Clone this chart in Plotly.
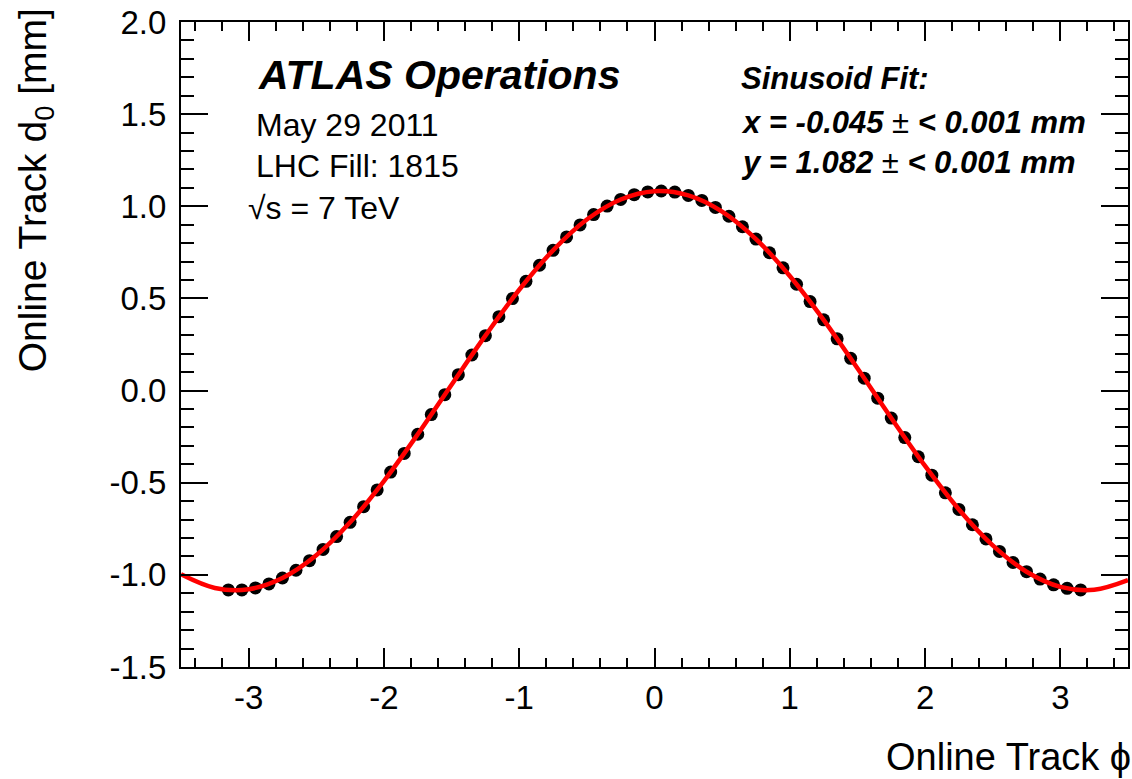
import plotly.graph_objects as go

# ---------------- data ----------------
phi_points = [-3.15, -3.05, -2.95, -2.85, -2.75, -2.65, -2.55, -2.45, -2.35, -2.25,
              -2.15, -2.05, -1.95, -1.85, -1.75, -1.65, -1.55, -1.45, -1.35, -1.25,
              -1.15, -1.05, -0.95, -0.85, -0.75, -0.65, -0.55, -0.45, -0.35, -0.25,
              -0.15, -0.05, 0.05, 0.15, 0.25, 0.35, 0.45, 0.55, 0.65, 0.75,
              0.85, 0.95, 1.05, 1.15, 1.25, 1.35, 1.45, 1.55, 1.65, 1.75,
              1.85, 1.95, 2.05, 2.15, 2.25, 2.35, 2.45, 2.55, 2.65, 2.75,
              2.85, 2.95, 3.05, 3.15]
d0_points = [-1.082, -1.082, -1.071, -1.049, -1.017, -0.975, -0.923, -0.862, -0.792, -0.715,
             -0.630, -0.539, -0.442, -0.341, -0.237, -0.130, -0.022, 0.086, 0.193, 0.298,
             0.401, 0.499, 0.593, 0.680, 0.761, 0.834, 0.899, 0.955, 1.001, 1.037,
             1.063, 1.078, 1.083, 1.077, 1.059, 1.032, 0.994, 0.946, 0.889, 0.822,
             0.748, 0.666, 0.577, 0.483, 0.384, 0.281, 0.175, 0.067, -0.041, -0.149,
             -0.255, -0.359, -0.459, -0.555, -0.645, -0.728, -0.805, -0.873, -0.933, -0.983,
             -1.023, -1.054, -1.073, -1.082]

# fit curve
phi_fit = [-3.5, -3.25, -3.0, -2.75, -2.5, -2.25, -2.0, -1.75, -1.5, -1.25, -1.0, -0.75,
           -0.5, -0.25, 0.0, 0.25, 0.5, 0.75, 1.0, 1.25, 1.5, 1.75, 2.0, 2.25, 2.5,
           2.75, 3.0, 3.25, 3.5]
d0_fit = [-0.997, -1.071, -1.078, -1.017, -0.894, -0.715, -0.491, -0.237, 0.032, 0.298,
          0.547, 0.761, 0.928, 1.037, 1.082, 1.059, 0.971, 0.822, 0.622, 0.384, 0.121,
          -0.149, -0.409, -0.645, -0.840, -0.983, -1.065, -1.081, -1.029]

x_tick_vals = [-3, -2, -1, 0, 1, 2, 3]
x_tick_text = ["-3", "-2", "-1", "0", "1", "2", "3"]
y_tick_vals = [-1.5, -1.0, -0.5, 0.0, 0.5, 1.0, 1.5, 2.0]
y_tick_text = ["-1.5", "-1.0", "-0.5", "0.0", "0.5", "1.0", "1.5", "2.0"]

FONT = "Liberation Sans, Arial, Helvetica, sans-serif"

W, H = 1132, 779
L, R, T, B = 181, 1130, 22, 667


def px(xp):
    return (xp - L) / (R - L)


def py(yp):
    return (B - yp) / (B - T)


fig = go.Figure()
fig.add_trace(go.Scatter(x=phi_points, y=d0_points, mode="markers",
                         marker=dict(color="black", size=13, line=dict(width=0)),
                         showlegend=False, hoverinfo="x+y"))
fig.add_trace(go.Scatter(x=phi_fit, y=d0_fit, mode="lines",
                         line=dict(color="#ff0000", width=4.5, shape="spline", smoothing=1.0),
                         showlegend=False, hoverinfo="x+y"))

axis_common = dict(showgrid=False, zeroline=False, showline=True, linecolor="black",
                   linewidth=2, mirror="ticks", ticks="inside", tickcolor="black",
                   tickwidth=2, tickfont=dict(family=FONT, size=33, color="black"))

fig.update_xaxes(range=[-3.5, 3.5], tickmode="array", tickvals=x_tick_vals,
                 ticktext=x_tick_text, ticklen=19, ticklabelstandoff=0,
                 minor=dict(ticks="inside", tick0=0, dtick=0.2, ticklen=9,
                            tickcolor="black", tickwidth=1.5),
                 **axis_common)
fig.update_yaxes(range=[-1.5, 2.0], tickmode="array", tickvals=y_tick_vals,
                 ticktext=y_tick_text, ticklen=27, ticklabelstandoff=6,
                 minor=dict(ticks="inside", tick0=0, dtick=0.1, ticklen=13,
                            tickcolor="black", tickwidth=1.5),
                 **axis_common)

annotations = [
    # axis titles
    dict(text="Online Track d<sub>0</sub> [mm]", x=px(35), y=1.0, yshift=16,
         xanchor="center", yanchor="top", textangle=-90,
         font=dict(family=FONT, size=39, color="black")),
    dict(text="Online Track \u03d5", x=1.0, y=py(757), xshift=5, xanchor="right",
         yanchor="middle", font=dict(family=FONT, size=38, color="black")),
    # ATLAS block
    dict(text="<b><i>ATLAS Operations</i></b>", x=px(256), y=py(75), xanchor="left",
         yanchor="middle", font=dict(family=FONT, size=41, color="black")),
    dict(text="May 29 2011", x=px(254), y=py(125), xanchor="left", yanchor="middle",
         font=dict(family=FONT, size=32, color="black")),
    dict(text="LHC Fill: 1815", x=px(254), y=py(166), xanchor="left", yanchor="middle",
         font=dict(family=FONT, size=32, color="black")),
    dict(text="\u221as = 7 TeV", x=px(246), y=py(208), xanchor="left", yanchor="middle",
         font=dict(family=FONT, size=32, color="black")),
    # fit block
    dict(text="<b><i>Sinusoid Fit:</i></b>", x=px(740), y=py(78), xanchor="left",
         yanchor="middle", font=dict(family=FONT, size=31, color="black")),
    dict(text="<b><i>x = -0.045</i></b> \u00b1 <b><i>&lt; 0.001 mm</i></b>", x=px(740),
         y=py(122), xanchor="left", yanchor="middle",
         font=dict(family=FONT, size=31, color="black")),
    dict(text="<b><i>y = 1.082</i></b> \u00b1 <b><i>&lt; 0.001 mm</i></b>", x=px(740),
         y=py(162), xanchor="left", yanchor="middle",
         font=dict(family=FONT, size=31, color="black")),
]
for a in annotations:
    a.update(xref="paper", yref="paper", showarrow=False)

fig.update_layout(width=W, height=H, margin=dict(l=L, r=W - R, t=T, b=H - B),
                  paper_bgcolor="white", plot_bgcolor="white",
                  annotations=annotations, font=dict(family=FONT, color="black"))

fig.write_html("out.html")
